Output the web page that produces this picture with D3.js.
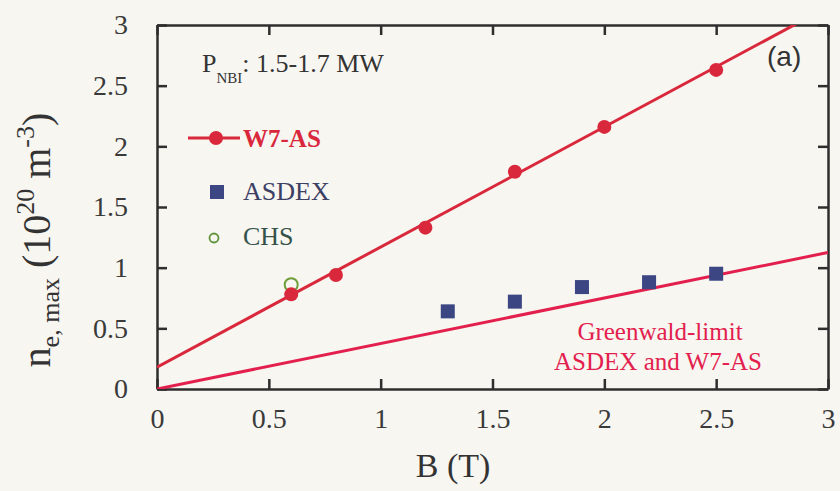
<!DOCTYPE html>
<html>
<head>
<meta charset="utf-8">
<script src="https://cdn.jsdelivr.net/npm/d3@7/dist/d3.min.js"></script>
<style>
  html, body { margin: 0; padding: 0; background: #f7f6f1; }
  svg { display: block; }
  text { font-family: "Liberation Serif", "Times New Roman", serif; }
</style>
</head>
<body>
<svg id="chart" width="840" height="491"></svg>
<script>
// ---- data ----
const xTicks = [0, 0.5, 1, 1.5, 2, 2.5, 3];
const yTicks = [0, 0.5, 1, 1.5, 2, 2.5, 3];
const xTickLabels = ["0", "0.5", "1", "1.5", "2", "2.5", "3"];
const yTickLabels = ["0", "0.5", "1", "1.5", "2", "2.5", "3"];

const w7B = [0.6, 0.8, 1.2, 1.6, 2.0, 2.5];
const w7N = [0.78, 0.94, 1.33, 1.79, 2.16, 2.63];

const asdexB = [1.3, 1.6, 1.9, 2.2, 2.5];
const asdexN = [0.64, 0.72, 0.84, 0.88, 0.95];

const chsB = [0.6];
const chsN = [0.86];

const w7FitB = [0, 3];
const w7FitN = [0.18, 3.15];

const greenwaldB = [0, 3];
const greenwaldN = [0, 1.125];

(function () {
// ---- layout ----
const svg = d3.select("#chart");
const x = d3.scaleLinear().domain([0, 3]).range([157, 828]);
const y = d3.scaleLinear().domain([0, 3]).range([389, 25]);

const red = "#d9283c";
const pink = "#e3204d";
const navy = "#3b4682";
const axisCol = "#2e2e2e";

svg.append("defs").append("clipPath").attr("id", "plotclip")
  .append("rect").attr("x", x(0)).attr("y", y(3))
  .attr("width", x(3) - x(0)).attr("height", y(0) - y(3));

// axes
const fs = 28;
const gBottom = svg.append("g").attr("transform", `translate(0,${y(0)})`)
  .call(d3.axisBottom(x).tickValues(xTicks).tickFormat((d, i) => xTickLabels[i])
    .tickSizeInner(-10).tickSizeOuter(0).tickPadding(19));
const gLeft = svg.append("g").attr("transform", `translate(${x(0)},0)`)
  .call(d3.axisLeft(y).tickValues(yTicks).tickFormat((d, i) => yTickLabels[i])
    .tickSizeInner(-10).tickSizeOuter(0).tickPadding(29));
const gTop = svg.append("g").attr("transform", `translate(0,${y(3)})`)
  .call(d3.axisTop(x).tickValues(xTicks).tickFormat("")
    .tickSizeInner(-10).tickSizeOuter(0));
const gRight = svg.append("g").attr("transform", `translate(${x(3)},0)`)
  .call(d3.axisRight(y).tickValues(yTicks).tickFormat("")
    .tickSizeInner(-10).tickSizeOuter(0));

[gBottom, gLeft, gTop, gRight].forEach(g => {
  g.select(".domain").attr("stroke", axisCol).attr("stroke-width", 2.5);
  g.selectAll(".tick line").attr("stroke", axisCol).attr("stroke-width", 2.5);
  g.selectAll(".tick text").attr("fill", "#3a3a3a")
    .style("font-family", '"Liberation Serif", serif').style("font-size", fs + "px");
});

// lines
const line = d3.line().x(d => x(d[0])).y(d => y(d[1]));
const plot = svg.append("g").attr("clip-path", "url(#plotclip)");
plot.append("path").datum(greenwaldB.map((b, i) => [b, greenwaldN[i]]))
  .attr("d", line).attr("fill", "none").attr("stroke", pink).attr("stroke-width", 3);
plot.append("path").datum(w7FitB.map((b, i) => [b, w7FitN[i]]))
  .attr("d", line).attr("fill", "none").attr("stroke", red).attr("stroke-width", 3);

// CHS
plot.selectAll(".chs").data(chsB.map((b, i) => [b, chsN[i]])).enter()
  .append("circle").attr("cx", d => x(d[0])).attr("cy", d => y(d[1])).attr("r", 6.5)
  .attr("fill", "none").attr("stroke", "#6f9e3c").attr("stroke-width", 2);

// W7-AS points
plot.selectAll(".w7").data(w7B.map((b, i) => [b, w7N[i]])).enter()
  .append("circle").attr("cx", d => x(d[0])).attr("cy", d => y(d[1])).attr("r", 7)
  .attr("fill", red);

// ASDEX squares
const sq = 14;
plot.selectAll(".asdex").data(asdexB.map((b, i) => [b, asdexN[i]])).enter()
  .append("rect").attr("x", d => x(d[0]) - sq / 2).attr("y", d => y(d[1]) - sq / 2)
  .attr("width", sq).attr("height", sq).attr("fill", navy);

// legend
svg.append("line").attr("x1", 188).attr("x2", 240).attr("y1", 138).attr("y2", 138)
  .attr("stroke", red).attr("stroke-width", 3);
svg.append("circle").attr("cx", 216).attr("cy", 138).attr("r", 7).attr("fill", red);
svg.append("text").attr("x", 243).attr("y", 147).attr("fill", red)
  .style("font-size", "25px").style("font-weight", "bold").text("W7-AS");

svg.append("rect").attr("x", 210).attr("y", 185).attr("width", 14).attr("height", 14).attr("fill", navy);
svg.append("text").attr("x", 243).attr("y", 200).attr("fill", "#3c4064")
  .style("font-size", "26px").text("ASDEX");

svg.append("circle").attr("cx", 214).attr("cy", 238).attr("r", 4.5)
  .attr("fill", "none").attr("stroke", "#5e9438").attr("stroke-width", 1.8);
svg.append("text").attr("x", 243).attr("y", 245).attr("fill", "#35524a")
  .style("font-size", "26px").text("CHS");

// P_NBI annotation
const pt = svg.append("text").attr("x", 202).attr("y", 72).attr("fill", "#333")
  .style("font-size", "26px");
pt.append("tspan").text("P");
pt.append("tspan").attr("dy", 11).style("font-size", "15px").text("NBI");
pt.append("tspan").attr("dy", -11).text(": 1.5-1.7 MW");

// (a)
svg.append("text").attr("x", 767).attr("y", 66).attr("fill", "#333")
  .style("font-family", '"Liberation Sans", Arial, sans-serif').style("font-size", "28px").text("(a)");

// Greenwald label
svg.append("text").attr("x", 660).attr("y", 340).attr("text-anchor", "middle").attr("fill", pink)
  .style("font-size", "25px").text("Greenwald-limit");
svg.append("text").attr("x", 658).attr("y", 370).attr("text-anchor", "middle").attr("fill", pink)
  .style("font-size", "25px").text("ASDEX and W7-AS");

// axis titles
svg.append("text").attr("x", 453).attr("y", 477).attr("text-anchor", "middle").attr("fill", "#333")
  .style("font-size", "34px").text("B (T)");

const yl = svg.append("text").attr("transform", "translate(50,240) rotate(-90)")
  .attr("text-anchor", "middle").attr("fill", "#333").style("font-size", "40px");
yl.append("tspan").text("n");
yl.append("tspan").attr("dy", 9).style("font-size", "26px").text("e, max");
yl.append("tspan").attr("dy", -9).text(" (10");
yl.append("tspan").attr("dy", -16).style("font-size", "26px").text("20");
yl.append("tspan").attr("dy", 16).text(" m");
yl.append("tspan").attr("dy", -16).style("font-size", "26px").text("-3");
yl.append("tspan").attr("dy", 16).text(")");
})();
</script>
</body>
</html>
